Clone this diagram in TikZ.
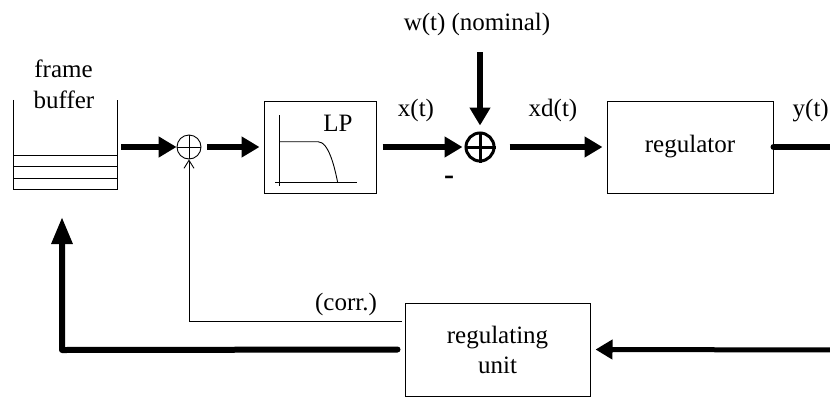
\documentclass[tikz,border=0pt]{standalone}
\usepackage{fontspec}
\setmainfont{Liberation Serif}
\usetikzlibrary{arrows.meta,calc}
\begin{document}
\begin{tikzpicture}[x=1pt,y=-1pt,
  txt/.style={font=\fontsize{25}{30}\selectfont, inner sep=0pt},
  box/.style={draw, line width=1pt, inner sep=0pt},
  thinline/.style={line width=0.9pt},
  bigarrow/.style={line width=6pt, -{Triangle[length=18pt,width=20pt]}},
  corrarrow/.style={line width=0.9pt, -{Straight Barb[length=8pt,width=10pt]}}
]
\useasboundingbox (0,0) rectangle (830,397);

% frame buffer
\node[inner sep=0pt, minimum width=103.5pt, minimum height=89pt] (buf) at (65.25,144.5) {};
\draw[thinline] (buf.north west) -- (buf.south west) -- (buf.south east) -- (buf.north east);
\foreach \f in {0.125,0.25,0.375}
  \draw[thinline] ($(buf.south west)!\f!(buf.north west)$) -- ($(buf.south east)!\f!(buf.north east)$);
\node[txt, anchor=base] (lblframe) at (63.5,77) {frame};
\node[txt, anchor=base] (lblbuffer) at (64,108) {buffer};

% first summing point
\node[circle, draw, thinline, minimum size=24pt, inner sep=0pt] (s1) at (189,147) {};
\draw[thinline] (s1.north) -- (s1.south) (s1.west) -- (s1.east);

% low pass
\node[box, minimum width=112pt, minimum height=92pt] (lp) at (320,147) {};
\begin{scope}[shift={(lp.center)}]
  \draw[thinline] (-41,-32) -- (-41,39);
  \draw[thinline] (-45,35.7) -- (37,35.7);
  \draw[thinline] (-41,-5.3) -- (-2,-5.3) .. controls (9,-5.3) and (15,22) .. (17.7,35.7);
  \node[txt] (lptext) at (18,-24) {LP};
\end{scope}

% second summing point
\node[circle, draw, line width=3pt, minimum size=28pt, inner sep=0pt] (s2) at (480,147) {};
\draw[line width=3pt] (s2.north) -- (s2.south) (s2.west) -- (s2.east);

% regulator
\node[box, txt, minimum width=166pt, minimum height=92pt] (reg) at (690,147) {regulator};

% regulating unit
\node[box, txt, align=center, minimum width=185pt, minimum height=93pt] (ru) at (497.5,349.5) {regulating\\unit};

% labels
\node[txt, anchor=base] (wlabel) at (477,30) {w(t) (nominal)};
\node[txt, anchor=base] (xlabel) at (416,116) {x(t)};
\node[txt, anchor=base] (xdlabel) at (553,116) {xd(t)};
\node[txt, anchor=base east] (ylabel) at (829,116) {y(t)};
\node[txt, font=\fontsize{30}{30}\selectfont\bfseries] (minus) at (449,180) {-};
\node[txt, anchor=base] (corrlabel) at (346,310) {(corr.)};

% coordinates
\coordinate (bufout) at ($(buf.east)+(4,0)$);
\coordinate (wtop) at (480,52);
\coordinate (yend) at (845,147);
\coordinate (rin) at (840,350);
\coordinate (fbcorner) at (62,350);
\coordinate (fbtip) at (62,217);
\coordinate (corrstart) at ($(ru.north west)+(-3,18.7)$);

% connectors
\draw[bigarrow] (bufout |- s1.west) -- (s1.west);
\draw[bigarrow] ($(s1.east)+(6,0)$) -- ($(lp.west)+(-4,0)$);
\draw[bigarrow] ($(lp.east)+(6,0)$) -- ([xshift=-2pt]s2.west);
\draw[bigarrow] (wtop) -- ([yshift=6pt]s2.north);
\draw[bigarrow] ($(s2.east)+(14,0)$) -- ([xshift=-4pt]reg.west);
\draw[line width=6pt, line cap=round] (reg.east) -- (yend);
\draw[line width=5pt, -{Triangle[length=17pt,width=19pt]}] (rin) -- ([xshift=5pt]ru.east);
\draw[line width=6pt, line join=round, line cap=round, -{Triangle[length=27pt,width=20pt]}]
  ([xshift=-7pt]ru.west) -- (fbcorner) -- (fbtip);
\draw[corrarrow] (corrstart) -- (corrstart -| s1.south) -- (s1.south);
\end{tikzpicture}
\end{document}
